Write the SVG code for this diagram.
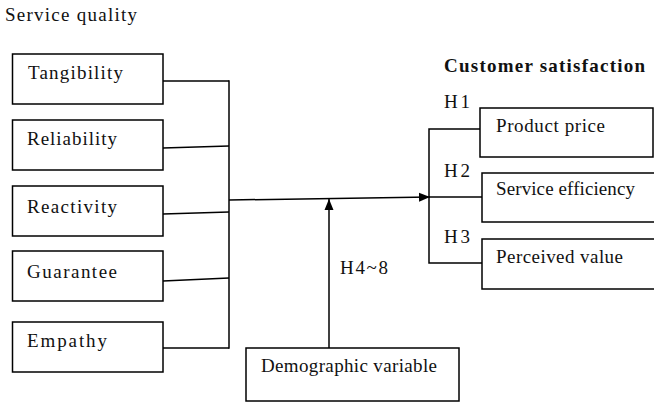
<svg xmlns="http://www.w3.org/2000/svg" width="654" height="402" viewBox="0 0 654 402">
<style>
  .box { fill: #fff; stroke: #000; stroke-width: 1.5; }
  .t { font-family: 'Liberation Serif', 'DejaVu Serif', 'Times New Roman', Times, serif; font-size: 19px; fill: #111; }
  .b { font-weight: bold; }
  .c { fill: none; stroke: #000; stroke-width: 1.5; }
</style>
<defs>
  <marker id="arr" markerUnits="userSpaceOnUse" markerWidth="12" markerHeight="10" refX="11" refY="5" orient="auto">
    <path d="M0,0.5 L11,5 L0,9.5 z" fill="#000"/>
  </marker>
</defs>
<rect width="654" height="402" fill="#fff"/>

<text class="t" x="5" y="21" textLength="132" lengthAdjust="spacing">Service quality</text>
<text class="t b" x="444" y="72" textLength="201" lengthAdjust="spacing">Customer satisfaction</text>

<g id="connectors">
  <line class="c" x1="163" y1="81" x2="229" y2="81"/>
  <line class="c" x1="163" y1="148" x2="229" y2="146"/>
  <line class="c" x1="163" y1="214" x2="229" y2="212"/>
  <line class="c" x1="163" y1="281" x2="229" y2="278"/>
  <line class="c" x1="163" y1="348" x2="229" y2="348"/>
  <line class="c" x1="229" y1="80.3" x2="229" y2="348.7"/>
  <line class="c" x1="229" y1="200" x2="430" y2="197" marker-end="url(#arr)"/>
  <line class="c" x1="329" y1="348" x2="329" y2="199" marker-end="url(#arr)"/>
  <path class="c" d="M480,129 H429 V263 H482"/>
  <line class="c" x1="429" y1="197" x2="482" y2="197"/>
  <text class="t" x="340" y="274" textLength="48" lengthAdjust="spacing">H4~8</text>
  <text class="t" x="444" y="108" textLength="26" lengthAdjust="spacing">H1</text>
  <text class="t" x="444" y="177" textLength="26" lengthAdjust="spacing">H2</text>
  <text class="t" x="444" y="243" textLength="26" lengthAdjust="spacing">H3</text>
</g>

<g id="tangibility">
  <rect class="box" x="12.5" y="54" width="150.5" height="50"/>
  <text class="t" x="28" y="79" textLength="95" lengthAdjust="spacing">Tangibility</text>
</g>
<g id="reliability">
  <rect class="box" x="12.5" y="120" width="150.5" height="50"/>
  <text class="t" x="27" y="145" textLength="90" lengthAdjust="spacing">Reliability</text>
</g>
<g id="reactivity">
  <rect class="box" x="12.5" y="186" width="150.5" height="50"/>
  <text class="t" x="27" y="213" textLength="90" lengthAdjust="spacing">Reactivity</text>
</g>
<g id="guarantee">
  <rect class="box" x="12.5" y="251" width="150.5" height="50"/>
  <text class="t" x="27" y="278" textLength="90" lengthAdjust="spacing">Guarantee</text>
</g>
<g id="empathy">
  <rect class="box" x="12.5" y="322" width="150.5" height="50"/>
  <text class="t" x="27" y="347" textLength="80" lengthAdjust="spacing">Empathy</text>
</g>

<g id="product-price">
  <rect class="box" x="480" y="108" width="173" height="49"/>
  <text class="t" x="496" y="132" textLength="109" lengthAdjust="spacing">Product price</text>
</g>
<g id="service-efficiency">
  <rect class="box" x="482" y="173" width="174" height="49"/>
  <text class="t" x="496" y="195" textLength="139" lengthAdjust="spacing">Service efficiency</text>
</g>
<g id="perceived-value">
  <rect class="box" x="482" y="239" width="174" height="50"/>
  <text class="t" x="496" y="263" textLength="127" lengthAdjust="spacing">Perceived value</text>
</g>

<g id="demographic-variable">
  <rect class="box" x="246" y="348" width="213" height="53"/>
  <text class="t" x="261" y="372" textLength="176" lengthAdjust="spacing">Demographic variable</text>
</g>
</svg>
